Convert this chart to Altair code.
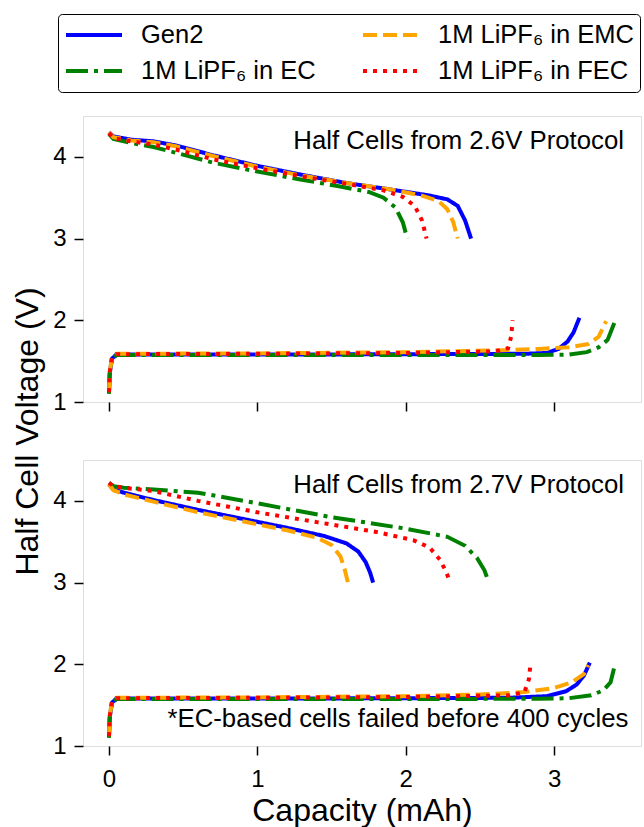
import altair as alt
import pandas as pd

# ---------------- data ----------------
series_names = ["Gen2", "1M LiPF₆ in EC", "1M LiPF₆ in EMC", "1M LiPF₆ in FEC"]
series_colors = ["#0000ff", "#008000", "#ffa500", "#ff0000"]
series_dashes = [[1, 0], [22, 6, 4, 6], [14, 6], [4, 6]]
draw_order = ["Gen2", "1M LiPF₆ in EC", "1M LiPF₆ in EMC", "1M LiPF₆ in FEC"]

x_ticks = [0, 1, 2, 3]
y_ticks = [1, 2, 3, 4]

panel_titles = ["Half Cells from 2.6V Protocol", "Half Cells from 2.7V Protocol"]
footnote = "*EC-based cells failed before 400 cycles"

# ---- 2.6 V protocol (top panel) ----
p26_gen2_hi_cap = [0.0, 0.03, 0.15, 0.3, 0.45, 0.7, 1.0, 1.3, 1.6, 1.9, 2.15, 2.28, 2.35, 2.40, 2.44]
p26_gen2_hi_v = [4.30, 4.25, 4.21, 4.19, 4.14, 4.02, 3.89, 3.78, 3.68, 3.60, 3.53, 3.48, 3.40, 3.22, 3.00]
p26_emc_hi_cap = [0.0, 0.03, 0.15, 0.3, 0.45, 0.7, 1.0, 1.3, 1.6, 1.9, 2.1, 2.22, 2.28, 2.32, 2.35]
p26_emc_hi_v = [4.30, 4.24, 4.20, 4.18, 4.13, 4.01, 3.88, 3.77, 3.68, 3.60, 3.53, 3.46, 3.36, 3.20, 3.00]
p26_fec_hi_cap = [0.0, 0.03, 0.15, 0.3, 0.45, 0.7, 1.0, 1.3, 1.6, 1.85, 1.98, 2.06, 2.11, 2.14]
p26_fec_hi_v = [4.29, 4.23, 4.19, 4.15, 4.09, 3.97, 3.86, 3.76, 3.67, 3.59, 3.51, 3.40, 3.22, 3.00]
p26_ec_hi_cap = [0.0, 0.03, 0.15, 0.3, 0.45, 0.7, 1.0, 1.3, 1.55, 1.75, 1.85, 1.93, 1.98, 2.01]
p26_ec_hi_v = [4.28, 4.22, 4.17, 4.12, 4.05, 3.93, 3.82, 3.72, 3.64, 3.57, 3.50, 3.38, 3.20, 3.00]

p26_gen2_lo_cap = [0.0, 0.005, 0.02, 0.05, 1.0, 2.0, 2.8, 2.95, 3.03, 3.09, 3.13, 3.17]
p26_gen2_lo_v = [1.12, 1.35, 1.53, 1.58, 1.58, 1.585, 1.59, 1.60, 1.65, 1.74, 1.85, 2.03]
p26_emc_lo_cap = [0.0, 0.005, 0.02, 0.05, 1.0, 2.0, 2.6, 2.9, 3.1, 3.23, 3.3, 3.35]
p26_emc_lo_v = [1.12, 1.36, 1.55, 1.59, 1.595, 1.61, 1.63, 1.65, 1.67, 1.71, 1.80, 1.99]
p26_ec_lo_cap = [0.0, 0.005, 0.02, 0.05, 1.0, 2.0, 2.9, 3.1, 3.22, 3.30, 3.36, 3.41]
p26_ec_lo_v = [1.10, 1.35, 1.52, 1.575, 1.575, 1.575, 1.575, 1.58, 1.61, 1.67, 1.76, 1.99]
p26_fec_lo_cap = [0.0, 0.005, 0.02, 0.05, 1.0, 2.0, 2.6, 2.69, 2.71, 2.72]
p26_fec_lo_v = [1.12, 1.36, 1.54, 1.585, 1.59, 1.60, 1.62, 1.66, 1.80, 2.00]

# ---- 2.7 V protocol (bottom panel) ----
p27_gen2_hi_cap = [0.0, 0.03, 0.1, 0.3, 0.6, 0.9, 1.2, 1.45, 1.6, 1.68, 1.73, 1.76, 1.78]
p27_gen2_hi_v = [4.20, 4.14, 4.10, 4.01, 3.89, 3.78, 3.67, 3.57, 3.48, 3.38, 3.25, 3.12, 3.00]
p27_emc_hi_cap = [0.0, 0.03, 0.1, 0.3, 0.6, 0.9, 1.2, 1.4, 1.5, 1.56, 1.59, 1.61]
p27_emc_hi_v = [4.20, 4.13, 4.08, 3.99, 3.86, 3.75, 3.64, 3.55, 3.46, 3.32, 3.15, 3.00]
p27_ec_hi_cap = [0.0, 0.03, 0.1, 0.3, 0.6, 1.0, 1.5, 2.0, 2.28, 2.40, 2.48, 2.53, 2.56]
p27_ec_hi_v = [4.22, 4.18, 4.16, 4.14, 4.10, 3.97, 3.80, 3.66, 3.56, 3.45, 3.30, 3.15, 3.00]
p27_fec_hi_cap = [0.0, 0.03, 0.1, 0.3, 0.6, 1.0, 1.4, 1.8, 2.05, 2.16, 2.23, 2.27, 2.30]
p27_fec_hi_v = [4.22, 4.18, 4.16, 4.12, 4.00, 3.86, 3.74, 3.62, 3.52, 3.43, 3.28, 3.14, 3.00]

p27_gen2_lo_cap = [0.0, 0.005, 0.02, 0.05, 1.0, 2.0, 2.7, 2.95, 3.08, 3.15, 3.20, 3.24]
p27_gen2_lo_v = [1.12, 1.35, 1.53, 1.58, 1.58, 1.585, 1.59, 1.61, 1.67, 1.75, 1.86, 2.02]
p27_emc_lo_cap = [0.0, 0.005, 0.02, 0.05, 1.0, 2.0, 2.5, 2.8, 3.0, 3.12, 3.20, 3.23]
p27_emc_lo_v = [1.12, 1.36, 1.55, 1.59, 1.595, 1.61, 1.63, 1.66, 1.71, 1.78, 1.88, 1.99]
p27_ec_lo_cap = [0.0, 0.005, 0.02, 0.05, 1.0, 2.0, 2.9, 3.1, 3.25, 3.33, 3.38, 3.41]
p27_ec_lo_v = [1.10, 1.35, 1.52, 1.575, 1.575, 1.575, 1.578, 1.585, 1.62, 1.68, 1.78, 2.00]
p27_fec_lo_cap = [0.0, 0.005, 0.02, 0.05, 1.0, 2.0, 2.7, 2.8, 2.83, 2.84]
p27_fec_lo_v = [1.12, 1.36, 1.54, 1.585, 1.59, 1.60, 1.62, 1.66, 1.82, 2.00]

title_x = [3.47, 3.47]
title_y = [4.20, 4.20]
footnote_x = [3.50]
footnote_y = [1.33]

# ---------------- build tables ----------------
curves = {
    "2.6": {
        "Gen2": [(p26_gen2_hi_cap, p26_gen2_hi_v), (p26_gen2_lo_cap, p26_gen2_lo_v)],
        "1M LiPF₆ in EC": [(p26_ec_hi_cap, p26_ec_hi_v), (p26_ec_lo_cap, p26_ec_lo_v)],
        "1M LiPF₆ in EMC": [(p26_emc_hi_cap, p26_emc_hi_v), (p26_emc_lo_cap, p26_emc_lo_v)],
        "1M LiPF₆ in FEC": [(p26_fec_hi_cap, p26_fec_hi_v), (p26_fec_lo_cap, p26_fec_lo_v)],
    },
    "2.7": {
        "Gen2": [(p27_gen2_hi_cap, p27_gen2_hi_v), (p27_gen2_lo_cap, p27_gen2_lo_v)],
        "1M LiPF₆ in EC": [(p27_ec_hi_cap, p27_ec_hi_v), (p27_ec_lo_cap, p27_ec_lo_v)],
        "1M LiPF₆ in EMC": [(p27_emc_hi_cap, p27_emc_hi_v), (p27_emc_lo_cap, p27_emc_lo_v)],
        "1M LiPF₆ in FEC": [(p27_fec_hi_cap, p27_fec_hi_v), (p27_fec_lo_cap, p27_fec_lo_v)],
    },
}


def panel_df(key):
    rows = []
    for si, name in enumerate(draw_order):
        for seg, (caps, vs) in enumerate(curves[key][name]):
            for i, (c, v) in enumerate(zip(caps, vs)):
                rows.append({"series": name, "curve": f"{si}-{seg}", "cap": c, "v": v, "i": i})
    return pd.DataFrame(rows)


FONT = "Liberation Sans"
x_dom = [-0.175, 3.585]
y_dom = [1.0, 4.5]

legend = alt.Legend(
    title=None, orient="none", legendX=-25, legendY=-102, columns=2,
    symbolType="stroke", symbolSize=3136, symbolStrokeWidth=4, clipHeight=30,
    labelFont=FONT, labelFontSize=25.5, labelColor="black", labelLimit=500,
    labelOffset=17, rowPadding=6, columnPadding=45, padding=6,
    strokeColor="black", fillColor="white", cornerRadius=4,
)

color_enc = alt.Color("series:N", scale=alt.Scale(domain=series_names, range=series_colors), legend=legend)
dash_enc = alt.StrokeDash("series:N", scale=alt.Scale(domain=series_names, range=series_dashes), legend=legend)


def text_layer(x, y, txt):
    return (alt.Chart(pd.DataFrame({"cap": x, "v": y, "t": txt}))
            .mark_text(align="right", baseline="middle", font=FONT, fontSize=25.75, color="black")
            .encode(x="cap:Q", y="v:Q", text="t:N"))


def panel(key, idx, top):
    df = panel_df(key)
    x_axis = alt.Axis(values=x_ticks, format="d", labels=not top,
                      domain=False, ticks=True, tickSize=9, tickWidth=1.5, tickColor="black",
                      grid=False, labelFont=FONT, labelFontSize=24, labelColor="black", labelPadding=12,
                      titleFont=FONT, titleFontSize=32, titleFontWeight="normal", titleColor="black",
                      titlePadding=4, title=None if top else "Capacity (mAh)")
    y_common = dict(values=y_ticks, format="d", domain=False, tickSize=9, tickWidth=1.5, tickColor="black",
                    grid=False, labelFont=FONT, labelFontSize=24, labelColor="black", labelPadding=8)
    if top:
        y_axis = alt.Axis(**y_common, title="Half Cell Voltage (V)", titleFont=FONT, titleFontSize=32,
                          titleFontWeight="normal", titleColor="black", titleAngle=-90,
                          titleX=-56, titleY=315, titleAlign="center", titleBaseline="middle")
    else:
        y_axis = alt.Axis(**y_common, title=None)
    lines = alt.Chart(df).mark_line(strokeWidth=4, strokeCap="butt").encode(
        x=alt.X("cap:Q", scale=alt.Scale(domain=x_dom, nice=False, zero=False), axis=x_axis),
        y=alt.Y("v:Q", scale=alt.Scale(domain=y_dom, nice=False, zero=False), axis=y_axis),
        color=color_enc,
        strokeDash=dash_enc,
        detail="curve:N",
        order="i:Q",
    )
    layers = [lines, text_layer([title_x[idx]], [title_y[idx]], [panel_titles[idx]])]
    if not top:
        layers.append(text_layer(footnote_x, footnote_y, [footnote]))
    return alt.layer(*layers).properties(width=558, height=286)


top_panel = panel("2.6", 0, True)
bottom_panel = panel("2.7", 1, False)

chart = alt.vconcat(top_panel, bottom_panel, spacing=58, bounds="flush").properties(
    padding={"left": 10, "top": 13, "right": 2, "bottom": 5},
).configure_view(stroke="black", strokeWidth=1.5).configure(background="white")

chart.save("out.html", embed_options={"renderer": "svg", "actions": False})
